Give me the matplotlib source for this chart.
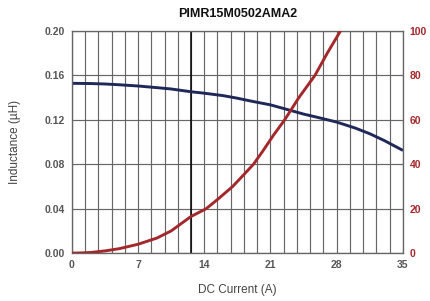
import matplotlib
matplotlib.use("Agg")
import matplotlib.pyplot as plt
import numpy as np

title = "PIMR15M0502AMA2"
x_label = "DC Current (A)"
y_label = "Inductance (µH)"

ind_current = [0, 2, 3.5, 5, 7, 9, 10.5, 12.6, 14, 16, 17.5, 19, 21, 23.2, 24.5, 26, 28, 30, 31.5, 33, 35]
ind_values = [0.1529, 0.1527, 0.1523, 0.1516, 0.1505, 0.1490, 0.1478, 0.1453, 0.1440, 0.1418,
              0.1395, 0.1368, 0.1335, 0.1283, 0.1252, 0.1222, 0.1180, 0.1125, 0.1075, 0.1015, 0.0925]

temp_current = [0, 1, 2, 3.5, 5, 7, 9, 10.5, 12.6, 14.2, 15.5, 17, 18, 19.2, 20.2, 21.3, 22.5, 24, 25.7, 27, 28.4, 29]
temp_values = [0, 0.1, 0.3, 1, 2, 4, 6.8, 10, 16.5, 20, 24.5, 30, 34.5, 40, 46, 53, 60, 70, 80, 90, 100, 104]

x_ticks = [0, 7, 14, 21, 28, 35]
y_ticks = [0.00, 0.04, 0.08, 0.12, 0.16, 0.20]
y2_ticks = [0, 20, 40, 60, 80, 100]
rated_current = 12.6

fig = plt.figure(figsize=(4.3, 3.01), dpi=100)
ax = fig.add_axes([0.167, 0.159, 0.770, 0.738])
ax2 = ax.twinx()

grid_c = "#666666"
for xv in np.arange(0, 35.01, 1.4):
    ax.axvline(xv, color=grid_c, lw=0.85, zorder=1)
for yv in y_ticks:
    ax.axhline(yv, color=grid_c, lw=0.85, zorder=1)
ax.axvline(rated_current, color="black", lw=1.1, zorder=2)

ax.plot(ind_current, ind_values, color="#1f2858", lw=2.1, zorder=3, solid_capstyle="butt")
ax2.plot(temp_current, temp_values, color="#a3282c", lw=2.1, zorder=3, solid_capstyle="butt")

ax.set_xlim(0, 35)
ax.set_ylim(0, 0.20)
ax2.set_ylim(0, 100)

tick_font = dict(fontsize=7.5, fontweight="bold", family="Liberation Sans")
ax.set_xticks(x_ticks)
ax.set_xticklabels([str(t) for t in x_ticks], color="#555555", **tick_font)
ax.set_yticks(y_ticks)
ax.set_yticklabels([f"{t:.2f}" for t in y_ticks], color="#555555", **tick_font)
ax2.set_yticks(y2_ticks)
ax2.set_yticklabels([str(t) for t in y2_ticks], color="#a3282c", **tick_font)

for a in (ax, ax2):
    a.tick_params(length=0, pad=5)
    for s in a.spines.values():
        s.set_color(grid_c)
        s.set_linewidth(0.85)

ax.set_xlabel(x_label, fontsize=8.5, color="#444444", family="Liberation Sans", labelpad=10)
ax.set_ylabel(y_label, fontsize=8.5, color="#444444", family="Liberation Sans", labelpad=17)
fig.text(0.5 * (0.167 + 0.937), 0.955, title, ha="center", va="center",
         fontsize=9, fontweight="bold", family="Liberation Sans", color="#111111")

fig.savefig("out.png", dpi=100)
